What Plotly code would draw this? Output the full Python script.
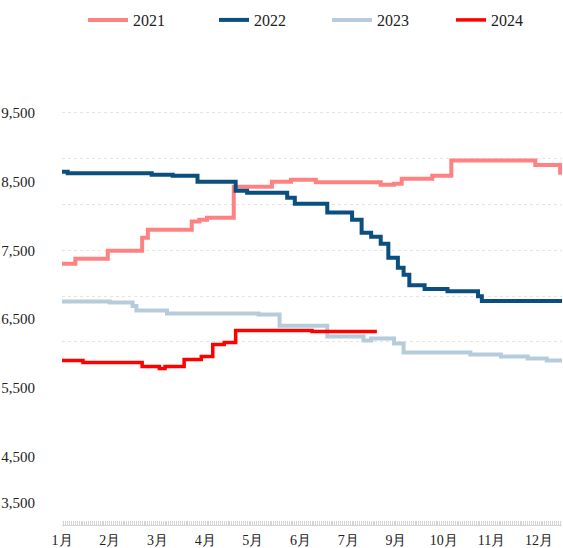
import plotly.graph_objects as go

# ---- data (x = trading-day index along a category axis, y = price) ----
x_2021 = [0, 7, 24, 42, 45, 68, 72, 76, 90, 110, 120, 133, 167, 174, 178, 194, 204, 248, 261, 262]
v_2021 = [7305, 7378, 7494, 7683, 7800, 7920, 7945, 7974, 8424, 8497, 8526, 8490, 8453, 8470, 8540, 8584, 8805, 8740, 8630, 8630]

x_2022 = [0, 3, 47, 58, 71, 91, 97, 118, 122, 139, 152, 157, 162, 167, 171, 176, 179, 182, 190, 202, 218, 220, 262]
v_2022 = [8642, 8620, 8600, 8584, 8497, 8366, 8337, 8265, 8177, 8050, 7945, 7756, 7698, 7596, 7392, 7247, 7145, 6990, 6935, 6905, 6830, 6760, 6760]

x_2023 = [0, 25, 37, 39, 55, 103, 114, 139, 158, 162, 174, 179, 214, 230, 244, 254, 262]
v_2023 = [6753, 6738, 6690, 6622, 6578, 6564, 6400, 6244, 6186, 6215, 6142, 6012, 5983, 5953, 5924, 5895, 5895]

x_2024 = [0, 11, 42, 51, 54, 64, 73, 79, 85, 91, 131, 165]
v_2024 = [5895, 5866, 5808, 5779, 5808, 5910, 5953, 6128, 6157, 6332, 6317, 6317]

month_labels = ["1月", "2月", "3月", "4月", "5月", "6月", "7月", "9月", "10月", "11月", "12月"]
month_step = 25
n_days = 262

y_label_vals = [3820, 4500, 5500, 6500, 7500, 8500, 9500]
y_label_text = ["3,500", "4,500", "5,500", "6,500", "7,500", "8,500", "9,500"]
y_grid_vals = [6167, 6833, 7500, 8167, 8833, 9500]
y_range = [3500, 10270]

series = [
    ("2021", x_2021, v_2021, "#FF8282", 4, "legend", 83, 40),
    ("2022", x_2022, v_2022, "#0B4F80", 4, "legend2", 214, 30),
    ("2023", x_2023, v_2023, "#B7CCDB", 4, "legend3", 327, 40),
    ("2024", x_2024, v_2024, "#FF0000", 3.5, "legend4", 451, 30),
]

serif = "Times New Roman, Liberation Serif, serif"

fig = go.Figure()
for name, xs, vs, color, w, lg, _, _ in series:
    fig.add_trace(go.Scatter(x=xs, y=vs, mode="lines", name=name, legend=lg,
                             line=dict(color=color, width=w, shape="hv"),
                             hoverinfo="skip"))
# dummy trace to carry the label axis
fig.add_trace(go.Scatter(x=[None], y=[None], yaxis="y2", showlegend=False, hoverinfo="skip"))

tickvals = list(range(0, n_days + 1))
ticktext = []
for t in tickvals:
    if t % month_step == 0 and t // month_step < len(month_labels):
        ticktext.append(month_labels[t // month_step])
    else:
        ticktext.append("")

W, H = 563, 548
legends = {}
for name, xs, vs, color, w, lg, lx, iw in series:
    legends[lg] = dict(orientation="h", xref="container", x=lx / W, xanchor="left",
                       yref="container", y=1 - 20 / H, yanchor="middle",
                       font=dict(size=16, family=serif, color="#222222"),
                       itemwidth=iw, bgcolor="rgba(0,0,0,0)")

fig.update_layout(
    width=W, height=H,
    margin=dict(l=62, r=1, t=60, b=23, autoexpand=False),
    plot_bgcolor="white", paper_bgcolor="white",
    font=dict(family=serif, color="#222222"),
    xaxis=dict(range=[0, n_days], tickmode="array", tickvals=tickvals, ticktext=ticktext,
               ticks="inside", ticklen=4, tickwidth=1, tickcolor="#d4d4d4",
               showline=True, linecolor="#d4d4d4", linewidth=1,
               showgrid=False, zeroline=False, ticklabelstandoff=2,
               tickfont=dict(size=14, family=serif, color="#222222"), automargin=False),
    yaxis=dict(range=y_range, tickmode="array", tickvals=y_grid_vals, showticklabels=False,
               showgrid=True, gridcolor="#e4e4e4", griddash="dot", gridwidth=1,
               zeroline=False, ticks="", automargin=False),
    yaxis2=dict(range=y_range, overlaying="y", side="left", tickmode="array",
                tickvals=y_label_vals, ticktext=y_label_text, showgrid=False,
                zeroline=False, ticks="", ticklabelstandoff=26,
                tickfont=dict(size=15, family=serif, color="#222222"), automargin=False),
    showlegend=True,
    **legends,
)

fig.write_html("out.html", config={"displayModeBar": False},
               post_script="document.body.style.margin='0';")
